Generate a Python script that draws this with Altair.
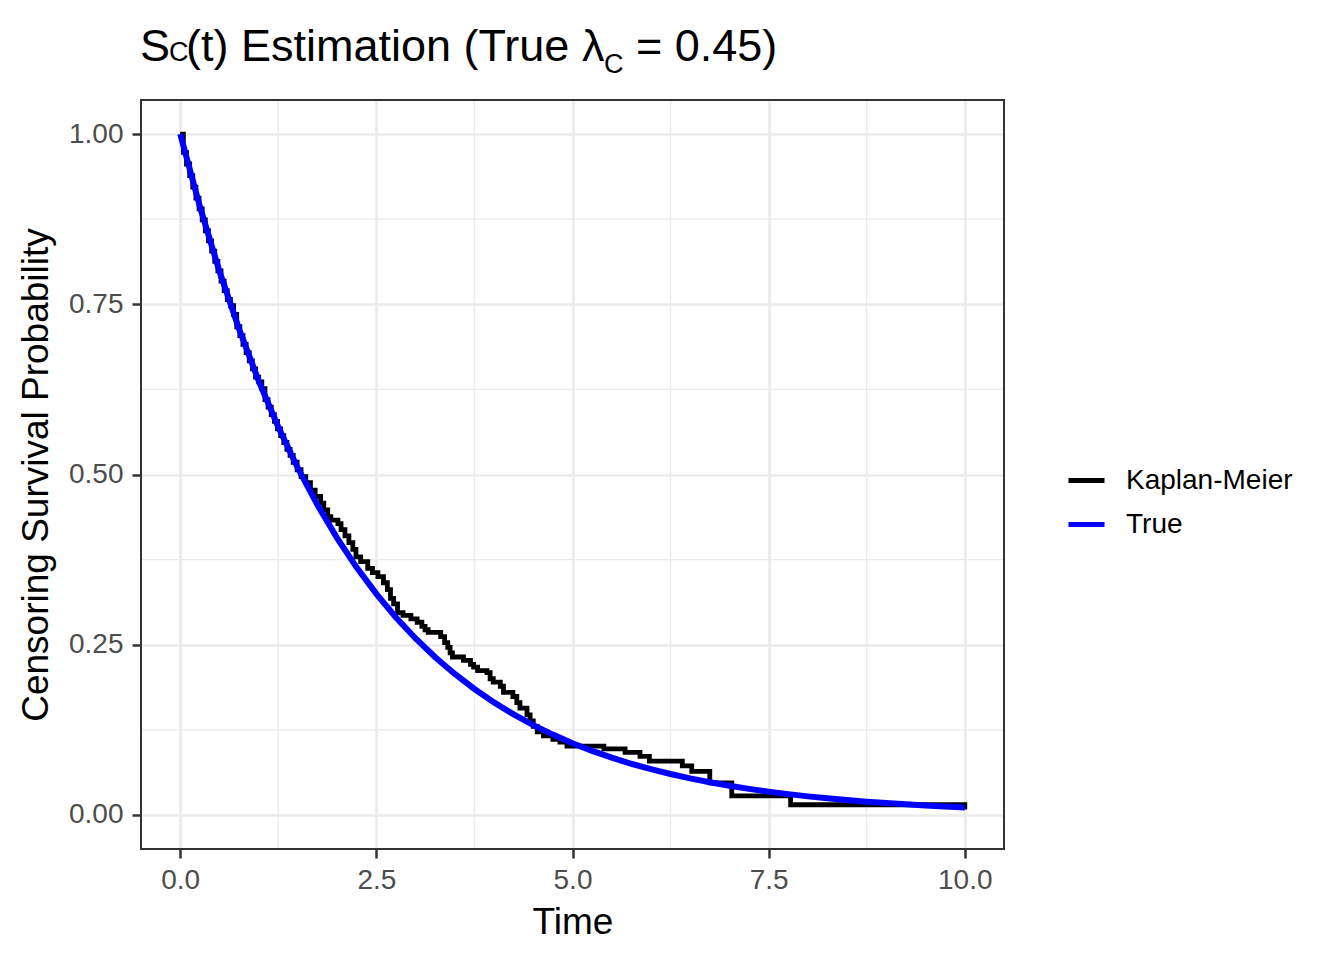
import altair as alt
import pandas as pd

# ---- data ----
km_time = [0.00, 0.04, 0.08, 0.12, 0.16, 0.20, 0.24, 0.28, 0.32, 0.36, 0.40, 0.44, 0.48, 0.52,
           0.56, 0.60, 0.64, 0.68, 0.72, 0.76, 0.80, 0.84, 0.88, 0.92, 0.96, 1.00, 1.04, 1.08,
           1.12, 1.16, 1.20, 1.24, 1.28, 1.32, 1.36, 1.40, 1.44, 1.49,
           1.54, 1.60, 1.66, 1.72, 1.79, 1.83, 1.88, 1.92, 2.01, 2.05,
           2.10, 2.15, 2.20, 2.24, 2.30, 2.39, 2.45, 2.52, 2.59, 2.64,
           2.68, 2.72, 2.77, 2.84, 2.94, 3.02, 3.08, 3.12, 3.16, 3.32,
           3.37, 3.41, 3.44, 3.47, 3.61, 3.70, 3.74, 3.79, 3.91, 3.95,
           3.99, 4.08, 4.12, 4.24, 4.29, 4.33, 4.42, 4.46, 4.50, 4.55,
           4.63, 4.75, 4.84, 4.93, 5.40, 5.67, 5.86, 5.98, 6.40, 6.52,
           6.75, 7.03, 7.78, 10.00]
km_surv = [1.000, 0.973, 0.956, 0.939, 0.922, 0.906, 0.890, 0.874, 0.858, 0.843, 0.828, 0.813,
           0.799, 0.784, 0.770, 0.757, 0.748, 0.735, 0.717, 0.704, 0.691, 0.679, 0.667, 0.655,
           0.643, 0.636, 0.626, 0.610, 0.599, 0.588, 0.578, 0.567, 0.557, 0.547, 0.537, 0.528,
           0.518, 0.507,
           0.497, 0.488, 0.477, 0.468, 0.458, 0.448, 0.438, 0.433, 0.428, 0.419,
           0.410, 0.400, 0.390, 0.379, 0.372, 0.362, 0.356, 0.350, 0.341, 0.331,
           0.318, 0.310, 0.297, 0.293, 0.288, 0.283, 0.277, 0.272, 0.268, 0.262,
           0.253, 0.246, 0.238, 0.232, 0.227, 0.221, 0.217, 0.212, 0.209, 0.200,
           0.195, 0.189, 0.180, 0.174, 0.165, 0.157, 0.147, 0.138, 0.130, 0.122,
           0.116, 0.111, 0.107, 0.101, 0.097, 0.092, 0.086, 0.079, 0.072, 0.064,
           0.047, 0.028, 0.015, 0.008]

true_time = [0.00, 0.25, 0.50, 0.75, 1.00, 1.25, 1.50, 1.75, 2.00, 2.25, 2.50, 2.75, 3.00, 3.25,
             3.50, 3.75, 4.00, 4.25, 4.50, 4.75, 5.00, 5.25, 5.50, 5.75, 6.00, 6.25, 6.50, 6.75,
             7.00, 7.25, 7.50, 7.75, 8.00, 8.25, 8.50, 8.75, 9.00, 9.25, 9.50, 9.75, 10.00]
true_surv = [1.0000, 0.8936, 0.7985, 0.7136, 0.6376, 0.5698, 0.5092, 0.4550, 0.4066, 0.3633,
             0.3247, 0.2901, 0.2592, 0.2317, 0.2070, 0.1850, 0.1653, 0.1477, 0.1320, 0.1180,
             0.1054, 0.0942, 0.0842, 0.0752, 0.0672, 0.0601, 0.0537, 0.0480, 0.0429, 0.0383,
             0.0342, 0.0306, 0.0273, 0.0244, 0.0218, 0.0195, 0.0174, 0.0156, 0.0139, 0.0124,
             0.0111]

series_names = ["Kaplan-Meier", "True"]
series_colors = ["black", "#0000FF"]

x_ticks = [0.0, 2.5, 5.0, 7.5, 10.0]
y_ticks = [0.00, 0.25, 0.50, 0.75, 1.00]
x_minor = [1.25, 3.75, 6.25, 8.75]
y_minor = [0.125, 0.375, 0.625, 0.875]

FONT = "Liberation Sans"
W, H = 863, 749

km_df = pd.DataFrame({"t": km_time, "s": km_surv, "series": series_names[0]})
true_df = pd.DataFrame({"t": true_time, "s": true_surv, "series": series_names[1]})

xscale = alt.Scale(domain=[-0.5, 10.5], nice=False, zero=False)
yscale = alt.Scale(domain=[-0.05, 1.05], nice=False, zero=False)

xaxis = alt.Axis(values=x_ticks, format=".1f", title="Time", grid=True,
                 labelFontSize=28, labelColor="#4D4D4D", labelFont=FONT,
                 labelBaseline="alphabetic", labelPadding=30,
                 tickSize=9, tickWidth=2.5, tickColor="#333333", domain=False,
                 gridColor="#EBEBEB", gridWidth=2.7,
                 titleFont=FONT, titleFontSize=37, titleFontWeight="normal", titleColor="black",
                 titleX=W / 2, titleY=84, titleBaseline="alphabetic", titleAlign="center")
yaxis = alt.Axis(values=y_ticks, format=".2f", title="Censoring Survival Probability", grid=True,
                 labelFontSize=28, labelColor="#4D4D4D", labelFont=FONT,
                 labelBaseline="middle", labelPadding=9,
                 tickSize=9, tickWidth=2.5, tickColor="#333333", domain=False,
                 gridColor="#EBEBEB", gridWidth=2.7,
                 titleFont=FONT, titleFontSize=37, titleFontWeight="normal", titleColor="black",
                 titleAngle=270, titleX=-94, titleY=H / 2, titleBaseline="alphabetic",
                 titleAlign="center")

color = alt.Color("series:N",
                  scale=alt.Scale(domain=series_names, range=series_colors),
                  legend=alt.Legend(title=None, orient="none", legendX=925, legendY=360,
                                    symbolType="stroke", symbolSize=1296, symbolStrokeWidth=5,
                                    labelFontSize=28, labelFont=FONT, labelColor="black",
                                    labelLimit=0, labelOffset=19, rowPadding=9, padding=0))

vgrid = alt.Chart(pd.DataFrame({"v": x_minor})).mark_rule(color="#EBEBEB", strokeWidth=1.4).encode(
    x=alt.X("v:Q", scale=xscale, axis=xaxis))
hgrid = alt.Chart(pd.DataFrame({"v": y_minor})).mark_rule(color="#EBEBEB", strokeWidth=1.4).encode(
    y=alt.Y("v:Q", scale=yscale, axis=yaxis))

km = alt.Chart(km_df).mark_line(interpolate="step-after", strokeWidth=4.8, strokeJoin="miter").encode(
    x=alt.X("t:Q", scale=xscale, axis=xaxis),
    y=alt.Y("s:Q", scale=yscale, axis=yaxis),
    color=color)
tru = alt.Chart(true_df).mark_line(strokeWidth=6).encode(
    x=alt.X("t:Q", scale=xscale, axis=xaxis),
    y=alt.Y("s:Q", scale=yscale, axis=yaxis),
    color=color)


def txt(s, x, y, size):
    return alt.Chart(pd.DataFrame({"k": [0]})).mark_text(
        align="left", baseline="alphabetic", font=FONT, fontSize=size, color="black"
    ).encode(x=alt.value(x), y=alt.value(y), text=alt.value(s))


title_parts = [
    txt("S", -1, -39, 45),
    txt("C", 28, -39, 27),
    txt("(t) Estimation (True λ", 45, -39, 45),
    txt("C", 463, -27, 27),
    txt("= 0.45)", 495, -39, 45),
]

border = alt.Chart(pd.DataFrame({"k": [0]})).mark_rect(
    fill="white", fillOpacity=0, stroke="#333333", strokeWidth=2
).encode(x=alt.value(0), x2=alt.value(W), y=alt.value(0), y2=alt.value(H))

chart = alt.layer(vgrid, hgrid, km, tru, border, *title_parts).properties(
    width=W, height=H,
    autosize=alt.AutoSizeParams(type="none"),
    padding={"left": 133, "top": 92, "right": 330, "bottom": 100},
).configure(font=FONT, background="white").configure_view(stroke=None)

chart.save("out.html", embed_options={"renderer": "svg", "actions": False})
